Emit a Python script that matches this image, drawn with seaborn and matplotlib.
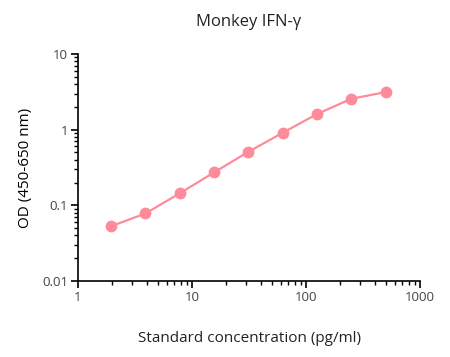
import matplotlib
matplotlib.use("Agg")
import matplotlib.pyplot as plt
import matplotlib.ticker as mticker
import seaborn as sns
import pandas as pd

concentration = [1.95, 3.9, 7.8, 15.6, 31.25, 62.5, 125, 250, 500]
od_values = [0.053, 0.078, 0.144, 0.272, 0.51, 0.91, 1.61, 2.56, 3.14]
x_ticks = [1, 10, 100, 1000]
x_tick_labels = ["1", "10", "100", "1000"]
y_ticks = [0.01, 0.1, 1, 10]
y_tick_labels = ["0.01", "0.1", "1", "10"]

df = pd.DataFrame({"conc": concentration, "od": od_values})

sns.set_theme(style="ticks")
plt.rcParams["font.family"] = ["Open Sans", "DejaVu Sans"]

fig = plt.figure(figsize=(4.5, 3.57), dpi=100)
ax = fig.add_axes([78/450, 1-281/357, (420-78)/450, (281-54)/357])

color = "#FF8A9A"
sns.lineplot(data=df, x="conc", y="od", ax=ax, color=color, linewidth=1.6,
             marker="o", markersize=8.5, markeredgewidth=0, markeredgecolor=color)

ax.set_xscale("log")
ax.set_yscale("log")
ax.set_xlim(1, 1000)
ax.set_ylim(0.01, 10)
ax.set_xticks(x_ticks)
ax.set_xticklabels(x_tick_labels)
ax.set_yticks(y_ticks)
ax.set_yticklabels(y_tick_labels)
ax.xaxis.set_minor_locator(mticker.LogLocator(base=10, subs=range(2, 10), numticks=20))
ax.yaxis.set_minor_locator(mticker.LogLocator(base=10, subs=range(2, 10), numticks=20))
ax.xaxis.set_minor_formatter(mticker.NullFormatter())
ax.yaxis.set_minor_formatter(mticker.NullFormatter())

for s in ["top", "right"]:
    ax.spines[s].set_visible(False)
for s in ["left", "bottom"]:
    ax.spines[s].set_color("black")
    ax.spines[s].set_linewidth(1.2)

ax.tick_params(axis="both", which="major", length=5, width=1.2, color="black",
               labelsize=9.5, labelcolor="#444444", direction="out", pad=2)
ax.tick_params(axis="both", which="minor", length=3, width=1.0, color="black", direction="out")

ax.set_xlabel("Standard concentration (pg/ml)", fontsize=11, color="#222222", labelpad=20)
ax.set_ylabel("OD (450-650 nm)", fontsize=11, color="black", labelpad=7)
ax.set_title("Monkey IFN-γ", fontsize=12, color="#222222", pad=20)

fig.savefig("out.png", dpi=100)
